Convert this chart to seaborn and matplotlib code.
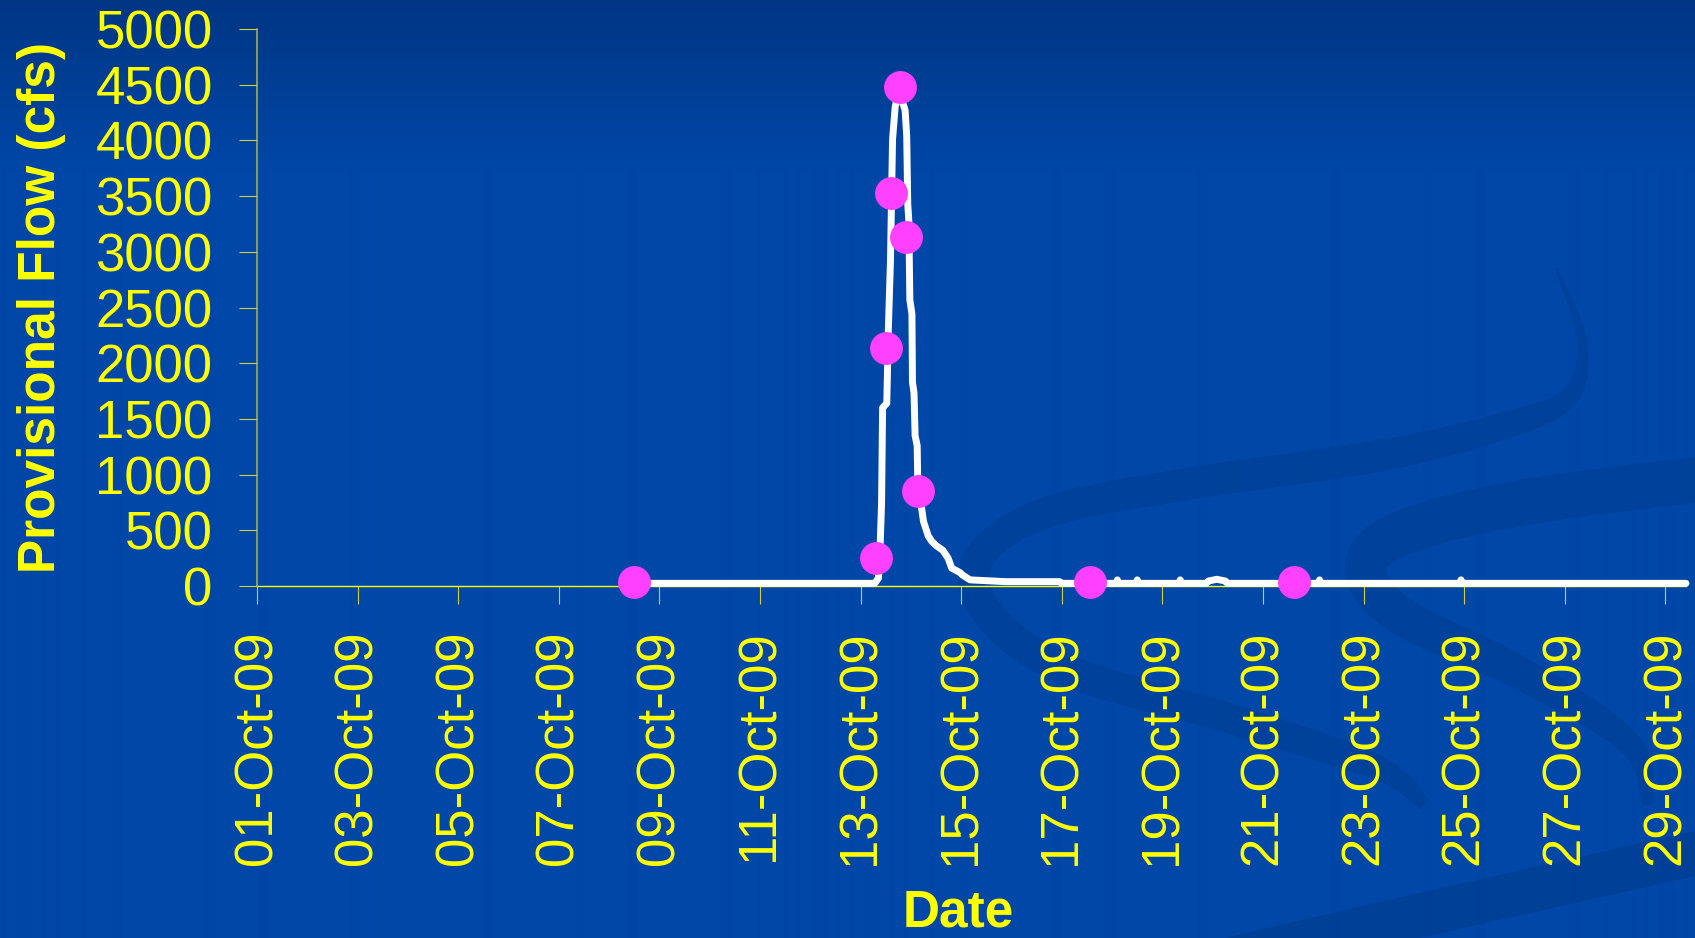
import numpy as np
import pandas as pd
import matplotlib
matplotlib.use("Agg")
import matplotlib.pyplot as plt
import matplotlib.dates as mdates
from matplotlib.patches import Polygon
import seaborn as sns

# ---------------------------------------------------------------------------
# Provisional flow record (cfs) for October 2009
flow_time = [
    "2009-10-08 12:00", "2009-10-13 06:45", "2009-10-13 08:30", "2009-10-13 09:15",
    "2009-10-13 10:00", "2009-10-13 10:30", "2009-10-13 12:30", "2009-10-13 13:15",
    "2009-10-13 14:15", "2009-10-13 15:15", "2009-10-13 16:30", "2009-10-13 18:15",
    "2009-10-13 21:15", "2009-10-13 22:00", "2009-10-13 22:30", "2009-10-13 23:00",
    "2009-10-13 23:15", "2009-10-13 23:30", "2009-10-14 00:30", "2009-10-14 00:45",
    "2009-10-14 01:30", "2009-10-14 02:00", "2009-10-14 03:00", "2009-10-14 03:15",
    "2009-10-14 04:00", "2009-10-14 05:15", "2009-10-14 06:00", "2009-10-14 08:15",
    "2009-10-14 10:00", "2009-10-14 12:15", "2009-10-14 15:15", "2009-10-14 17:45",
    "2009-10-14 19:30", "2009-10-14 23:30", "2009-10-15 00:30", "2009-10-15 04:15",
    "2009-10-15 21:15", "2009-10-16 23:00", "2009-10-17 00:00",
    "2009-10-18 02:00", "2009-10-18 02:30", "2009-10-18 03:00",
    "2009-10-18 11:30", "2009-10-18 12:00", "2009-10-18 12:30",
    "2009-10-19 08:00", "2009-10-19 08:30", "2009-10-19 09:00",
    "2009-10-19 21:00", "2009-10-19 22:00", "2009-10-20 02:00", "2009-10-20 06:00",
    "2009-10-20 07:00",
    "2009-10-22 02:30", "2009-10-22 03:00", "2009-10-22 03:30",
    "2009-10-24 22:00", "2009-10-24 22:30", "2009-10-24 23:00",
    "2009-10-29 09:50",
]
flow_cfs = [
    24, 24, 70, 320,
    740, 1600, 1640, 2310,
    2920, 4010, 4300, 4450,
    4270, 4040, 3430, 3280,
    2920, 2570, 2440, 1830,
    1730, 1350, 1260, 960,
    850, 680, 580, 450,
    400, 360, 320, 250,
    160, 120, 100, 55,
    39, 39, 24,
    24, 55, 24,
    24, 55, 24,
    24, 55, 24,
    24, 45, 60, 45,
    24,
    24, 55, 24,
    24, 55, 24,
    24,
]

# Grab-sample measurements
sample_time = [
    "2009-10-08 12:00", "2009-10-13 07:30", "2009-10-13 12:00", "2009-10-13 14:30",
    "2009-10-13 18:45", "2009-10-13 21:45", "2009-10-14 03:15", "2009-10-17 13:15",
    "2009-10-21 14:45",
]
sample_cfs = [40, 255, 2135, 3530, 4480, 3135, 850, 40, 40]

y_ticks = list(range(0, 5001, 500))

YELLOW = "#ffff00"
WHITE = "#ffffff"
MAGENTA = "#ff40ff"

# ---------------------------------------------------------------------------
sns.set_style("ticks")
plt.rcParams["font.family"] = ["Liberation Sans", "DejaVu Sans"]

W, H = 1695, 938
fig = plt.figure(figsize=(W / 100, H / 100), dpi=100)

# Slide-style backdrop: blue gradient with soft darker ribbons
bg = fig.add_axes([0, 0, 1, 1], zorder=-10)
bg.set_axis_off()
top = np.array([0x00, 0x36, 0x84]) / 255.0
base = np.array([0x00, 0x47, 0xa7]) / 255.0
rows = np.arange(H)
mix = np.clip(rows / 170.0, 0, 1)[:, None]
col = top * (1 - mix) + base * mix
img = np.repeat(col[:, None, :], 2, axis=1)
bg.imshow(img, extent=[0, W, H, 0], aspect="auto", interpolation="bilinear")
bg.set_xlim(0, W)
bg.set_ylim(H, 0)


def catmull_rom(pts, n=40):
    pts = np.asarray(pts, float)
    ext = np.vstack([pts[0], pts, pts[-1]])
    out = []
    for i in range(1, len(ext) - 2):
        p0, p1, p2, p3 = ext[i - 1], ext[i], ext[i + 1], ext[i + 2]
        t = np.linspace(0, 1, n, endpoint=False)[:, None]
        seg = 0.5 * ((2 * p1) + (-p0 + p2) * t
                     + (2 * p0 - 5 * p1 + 4 * p2 - p3) * t ** 2
                     + (-p0 + 3 * p1 - 3 * p2 + p3) * t ** 3)
        out.append(seg)
    out.append(pts[-1][None, :])
    return np.vstack(out)


def ribbon(ax, pts, w_nodes, color="black", alpha=0.07):
    c = catmull_rom(pts)
    d = np.gradient(c, axis=0)
    d /= np.linalg.norm(d, axis=1)[:, None] + 1e-9
    nrm = np.column_stack([-d[:, 1], d[:, 0]])
    s = np.linspace(0, 1, len(c))
    w = np.interp(s, np.linspace(0, 1, len(w_nodes)), w_nodes)[:, None] / 2
    poly = np.vstack([c + nrm * w, (c - nrm * w)[::-1]])
    ax.add_patch(Polygon(poly, closed=True, facecolor=color, edgecolor="none",
                         alpha=alpha))


ribbon(bg, [(1556, 268), (1582, 341), (1568, 398), (1496, 428), (1378, 456),
            (1188, 484), (1045, 513), (978, 560), (990, 616), (1069, 671),
            (1235, 720), (1378, 768), (1425, 805)],
       [3, 12, 26, 32, 32, 30, 32, 32, 28, 12])
ribbon(bg, [(1710, 478), (1520, 503), (1400, 534), (1366, 569), (1401, 616),
            (1520, 673), (1629, 743), (1648, 805)],
       [46, 46, 44, 40, 36, 26, 10])
ribbon(bg, [(1100, 990), (1400, 920), (1720, 848)], [44, 44, 44], alpha=0.09)

# ---------------------------------------------------------------------------
ax = fig.add_axes([257 / W, 1 - 586 / H, 1429 / W, 557 / H])
ax.patch.set_alpha(0)

flow = pd.DataFrame({"time": pd.to_datetime(flow_time), "cfs": flow_cfs})
samples = pd.DataFrame({"time": pd.to_datetime(sample_time), "cfs": sample_cfs})

sns.lineplot(data=flow, x="time", y="cfs", ax=ax, color=WHITE, linewidth=5.0,
             estimator=None, sort=False, zorder=3)
for ln in ax.lines:
    ln.set_clip_on(False)
sns.scatterplot(data=samples, x="time", y="cfs", ax=ax, color=MAGENTA, s=560,
                linewidth=0, zorder=4, clip_on=False)

ax.set_xlim(pd.Timestamp("2009-10-01 00:00"), pd.Timestamp("2009-10-29 09:50"))
ax.set_ylim(0, 5000)
ax.set_yticks(y_ticks)
ax.xaxis.set_major_locator(mdates.DayLocator(bymonthday=range(1, 32, 2)))
ax.xaxis.set_major_formatter(mdates.DateFormatter("%d-%b-%y"))

ax.tick_params(axis="both", direction="out", length=13, width=0.8,
               color="#d0d040", labelcolor=YELLOW, labelsize=38, pad=19)
ax.tick_params(axis="x", labelrotation=90)

for side in ("top", "right"):
    ax.spines[side].set_visible(False)
ax.spines["left"].set_color("#b4b44c")
ax.spines["left"].set_linewidth(1.1)
ax.spines["bottom"].set_color(YELLOW)
ax.spines["bottom"].set_linewidth(1.0)
ax.spines["bottom"].set_zorder(2)

ax.set_ylabel("Provisional Flow (cfs)", fontsize=37, fontweight="bold",
              color=YELLOW)
ax.yaxis.set_label_coords(-0.1505, 0.5)
ax.yaxis.label.set_va("center")

ax.set_xlabel("Date", fontsize=37, fontweight="bold", color=YELLOW)
ax.xaxis.set_label_coords(0.4906, -0.6122)
ax.xaxis.label.set_va("baseline")

fig.savefig("out.png", dpi=100)
